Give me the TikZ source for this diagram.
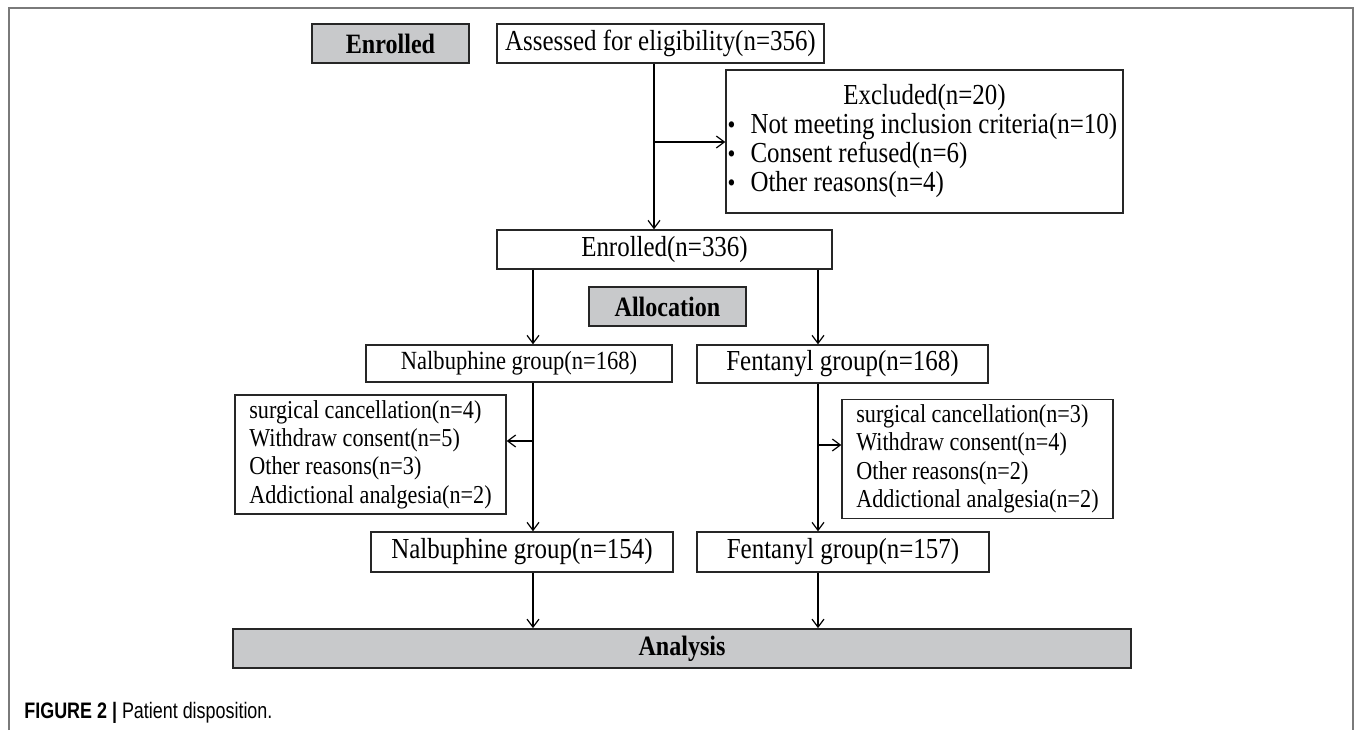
\documentclass[tikz,border=0pt]{standalone}
\usepackage{fontspec}
\setmainfont{Liberation Serif}[FakeStretch=0.86]
\newfontfamily\capfont{Liberation Sans}[FakeStretch=0.8]
\usetikzlibrary{arrows.meta}
\definecolor{labelgray}{HTML}{C8C9CB}
\definecolor{framegray}{HTML}{7A7A7A}
\newcommand{\exbullet}{\makebox[10.5pt][l]{\hspace{-1pt}\fontsize{13}{13}\selectfont\textbullet}}

\begin{document}
\begin{tikzpicture}[x=0.5pt,y=-0.5pt,
   box/.style={draw=black!85, line width=0.7pt, inner sep=0pt, minimum height=19.5pt,
      font=\fontsize{14.5}{14.5}\selectfont},
   stage/.style={box, fill=labelgray, line width=0.9pt, minimum width=78.5pt,
      font=\fontsize{14}{14}\selectfont\bfseries},
   reasons/.style={box, align=left, minimum width=135.5pt, minimum height=59.5pt,
      font=\fontsize{12.9}{14.2}\selectfont},
   arr/.style={line width=0.6pt, -{Straight Barb[length=4pt,width=6pt]}}]
   \useasboundingbox (0,0) rectangle (1355,730);
   \draw[framegray, line width=0.8pt] (9,730) -- (9,8) -- (1353,8) -- (1353,730);

   \node[stage] (enrlab) at (390.5,43.5) {Enrolled};
   \node[box, minimum width=163.5pt] (assess) at (660.5,43.5) {Assessed for eligibility(n=356)};
   \node[box, align=left, minimum width=198.5pt, minimum height=71.5pt] (excl) at (924.5,141.5)
      {\makebox[195pt]{Excluded(n=20)}\\
       \exbullet Not meeting inclusion criteria(n=10)\\
       \exbullet Consent refused(n=6)\\
       \exbullet Other reasons(n=4)};
   \node[box, minimum width=167.5pt] (enrolled) at (664.5,249.5) {Enrolled(n=336)};
   \node[stage] (alloc) at (667.5,306.5) {Allocation};
   \node[box, minimum width=153pt, minimum height=18.5pt, font=\fontsize{13.1}{13.1}\selectfont] (nal168) at (519,363.5) {Nalbuphine group(n=168)};
   \node[box, minimum width=145.5pt, minimum height=19pt] (fen168) at (842.5,364) {Fentanyl group(n=168)};
   \node[reasons] (lrea) at (370.5,454.5)
      {surgical cancellation(n=4)\\ Withdraw consent(n=5)\\ Other reasons(n=3)\\ Addictional analgesia(n=2)};
   \node[reasons] (rrea) at (977.5,459)
      {surgical cancellation(n=3)\\ Withdraw consent(n=4)\\ Other reasons(n=2)\\ Addictional analgesia(n=2)};
   \node[box, minimum width=151pt, minimum height=20pt] (nal154) at (522,552) {Nalbuphine group(n=154)};
   \node[box, minimum width=146pt, minimum height=20pt] (fen157) at (843,552) {Fentanyl group(n=157)};
   \node[stage, minimum width=449pt] (analysis) at (682,648.5) {Analysis};

   \coordinate (split) at (654,142);
   \coordinate (lsplit) at (533,441);
   \coordinate (rsplit) at (818,445);

   \draw[arr] (assess.south -| split) -- (enrolled.north -| split);
   \draw[arr] (split) -- (excl.west |- split);
   \draw[arr] (enrolled.south -| lsplit) -- (nal168.north -| lsplit);
   \draw[arr] (enrolled.south -| rsplit) -- (fen168.north -| rsplit);
   \draw[arr] (nal168.south -| lsplit) -- (nal154.north -| lsplit);
   \draw[arr] (lsplit) -- (lrea.east |- lsplit);
   \draw[arr] (fen168.south -| rsplit) -- (fen157.north -| rsplit);
   \draw[arr] (rsplit) -- (rrea.west |- rsplit);
   \draw[arr] (nal154.south -| lsplit) -- (analysis.north -| lsplit);
   \draw[arr] (fen157.south -| rsplit) -- (analysis.north -| rsplit);

   \node[anchor=west, inner sep=0pt, font=\capfont\fontsize{11.2}{12}\selectfont] (caption) at (24,713)
      {\textbf{FIGURE 2 |} Patient disposition.};
\end{tikzpicture}
\end{document}
